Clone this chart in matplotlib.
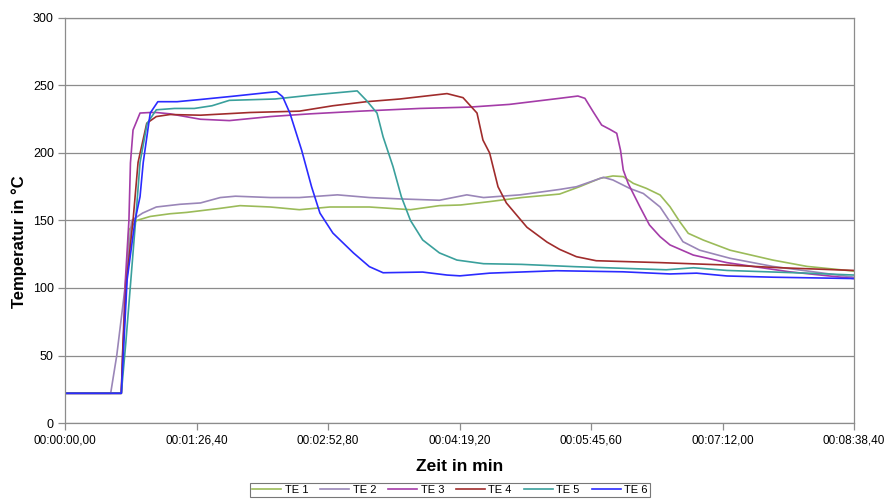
import matplotlib.pyplot as plt

# time in s, temperature in deg C
te1_t = [0, 37, 40, 42, 47, 56, 69, 80, 102, 115, 135, 154, 174, 200, 227, 246, 260, 279, 300, 325, 338, 351.5, 360,
         366.8, 373.4, 382, 391, 397.5, 404, 409.5, 419.4, 437, 465, 487.5, 518.4]
te1_v = [22, 22, 100, 143, 150, 153, 155, 156, 159, 161, 160, 158, 160, 160, 158, 161, 161.5, 164, 167, 169.6, 175,
         181.2, 183, 182.5, 177.5, 173.8, 168.9, 160.2, 149, 140.5, 135.5, 128, 120.7, 116, 112.5]

te2_t = [0, 30, 34, 39.4, 43.8, 49, 51, 60, 75.5, 89, 102, 112, 135, 154, 179, 200, 220, 246, 264, 275, 299, 325,
         336, 353.7, 360, 371, 380, 391, 399.7, 406, 417, 437, 465, 518.4]
te2_v = [22, 22, 50, 100, 150, 154, 155.5, 160, 162, 163, 167, 168, 167, 167, 169, 167, 166, 165, 169, 167, 169, 173,
         175, 182, 180, 173.8, 170, 160, 145.4, 134.3, 128, 122, 116, 108]

te3_t = [0, 37, 39.4, 42, 43, 44.7, 49.3, 56, 60, 69, 89, 108, 135, 161, 194, 233, 266, 292, 325, 337, 341.6, 347,
         352.6, 358, 362.5, 365, 366.8, 370, 377.8, 384, 391, 397.5, 412.8, 434.8, 476, 518.4]
te3_v = [22, 22, 100.7, 150, 192.6, 217, 229.6, 230, 230, 229, 225, 224, 227, 229, 231, 233, 234, 236, 240.5, 242.2,
         240.5, 230.6, 220.7, 217.5, 214.6, 202, 187.4, 177.5, 160, 146.7, 138, 131.9, 124.4, 118.8, 112, 107]

te4_t = [0, 37, 38, 40.5, 44.7, 48, 53.7, 60, 69, 89, 121.5, 154, 176, 198, 220, 251, 261.5, 270.7, 274.6, 279, 284.5,
         290, 303.5, 316.7, 325, 336, 349, 391, 434.8, 470, 518.4]
te4_v = [22, 22, 56, 106, 150, 193, 222, 227, 228.5, 228, 230, 231, 235, 238, 240, 244, 241, 229.6, 209.6, 200, 175,
         163, 145, 134, 128.6, 123.2, 120.2, 118.8, 117, 115, 113]

te5_t = [0, 37, 40, 46.4, 49.3, 54, 60, 72, 85, 96.6, 108, 138, 163, 192, 198, 205, 209, 215.5, 221, 227, 235, 246,
         257.5, 275, 300, 335, 395, 413, 435, 487.5, 518.4]
te5_v = [22, 22, 60, 150, 193, 222, 232, 233, 233, 235, 239, 240, 243, 246, 239, 229.6, 212, 190, 167.6, 150, 135.6,
         126, 120.7, 118, 117.5, 115.8, 113.5, 115, 113, 111, 109.6]

te6_t = [0, 37, 40.8, 46, 49.3, 51.4, 56, 61, 73.6, 88.7, 110, 132.7, 139, 143, 147.8, 155.5, 162, 167.5, 176, 189.5,
         200, 209, 235, 251, 259.5, 279, 323, 366.6, 397.5, 415, 435, 465, 518.4]
te6_v = [22, 22, 106, 150, 167.6, 193, 229.6, 238, 238, 239.6, 242, 244.7, 245.4, 241.7, 229.4, 202, 175, 155.5,
         140.7, 126, 115.8, 111.3, 111.8, 109.6, 109, 111, 112.8, 112, 110.4, 111, 108.9, 108, 107]

series_names = ["TE 1", "TE 2", "TE 3", "TE 4", "TE 5", "TE 6"]
series_colors = ["#9bbb59", "#9a86b8", "#a43ca8", "#a02c2c", "#3aa09c", "#2b2bff"]

x_ticks = [0, 86.4, 172.8, 259.2, 345.6, 432.0, 518.4]
x_tick_labels = ["00:00:00,00", "00:01:26,40", "00:02:52,80", "00:04:19,20",
                 "00:05:45,60", "00:07:12,00", "00:08:38,40"]
y_ticks = [0, 50, 100, 150, 200, 250, 300]

plt.rcParams['font.family'] = ['Liberation Sans', 'DejaVu Sans']

fig = plt.figure(figsize=(8.88, 4.99), dpi=100)
ax = fig.add_axes([65 / 888, 1 - 423 / 499, 789 / 888, 405 / 499])

all_t = [te1_t, te2_t, te3_t, te4_t, te5_t, te6_t]
all_v = [te1_v, te2_v, te3_v, te4_v, te5_v, te6_v]
for t, v, name, col in zip(all_t, all_v, series_names, series_colors):
    ax.plot(t, v, color=col, lw=1.2, label=name)

ax.set_xlim(0, 518.4)
ax.set_ylim(0, 300)
ax.set_xticks(x_ticks)
ax.set_xticklabels(x_tick_labels, fontsize=8.5)
ax.set_yticks(y_ticks)
ax.set_yticklabels([str(y) for y in y_ticks], fontsize=9)

# horizontal grid only
ax.yaxis.grid(True, color="#8c8c8c", lw=0.9)
ax.set_axisbelow(True)
for s in ax.spines.values():
    s.set_color("#8c8c8c")
    s.set_linewidth(0.9)
ax.tick_params(axis='both', direction='out', length=5, color="#8c8c8c", width=0.9, pad=3)

ax.set_xlabel("Zeit in min", fontsize=12.5, fontweight='bold', labelpad=9)
ax.set_ylabel("Temperatur in °C", fontsize=12, fontweight='bold')
ax.yaxis.set_label_coords(-38 / 789, 0.447)

leg = ax.legend(loc='upper center', bbox_to_anchor=(450 / 888, 1 - 483 / 499), bbox_transform=fig.transFigure,
                ncol=6, fontsize=8, frameon=True, fancybox=False, handlelength=2.6, columnspacing=1.1,
                handletextpad=0.3, borderpad=0.2, borderaxespad=0)
leg.get_frame().set_edgecolor("#555555")
leg.get_frame().set_linewidth(0.8)

fig.savefig("out.png", dpi=100)
